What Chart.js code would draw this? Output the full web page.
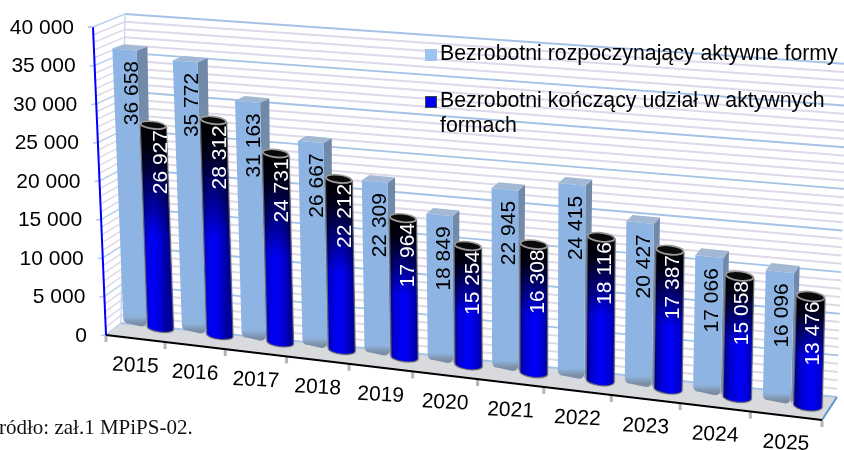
<!DOCTYPE html>
<html><head><meta charset="utf-8">
<style>html,body{margin:0;padding:0;background:#fff;overflow:hidden}#w{position:relative;width:844px;height:450px}</style>
<script src="https://cdn.jsdelivr.net/npm/chart.js@4"></script></head>
<body><div id="w"><canvas id="c" width="844" height="450"></canvas></div>
<script>
const categories = ['2015','2016','2017','2018','2019','2020','2021','2022','2023','2024','2025'];
const startedValues = [36658,35772,31163,26667,22309,18849,22945,24415,20427,17066,16096];
const finishedValues = [26927,28312,24731,22212,17964,15254,16308,18116,17387,15058,13476];
const startedLabel = 'Bezrobotni rozpoczynający aktywne formy';
const finishedLabel = 'Bezrobotni kończący udział w aktywnych formach';
const sourceNote = 'ródło: zał.1 MPiPS-02.';
const yMax = 40000, yMajor = 5000, yMinor = 1000;

const fmt = v => String(v).replace(/\B(?=(\d{3})+$)/g,' ');
const lerp=(a,b,t)=>a+(b-a)*t;
const lp=(p,q,t)=>[lerp(p[0],q[0],t),lerp(p[1],q[1],t)];
// 3D box corners on screen
const FBL=[106,335],FBR=[822,420],BBL=[121,323],BBR=[837,397];
const HL=[-13,-308],HR=[11,-336];          // front-plane height vectors
const BHL=[-12,-300],BHR=[9,-325];         // column height vectors
const BTL=[125,14],BTR=[848,64];
const DTL=[32,-11],DTR=[15,-18];
const K=1.112;
const tOf=u=>u/(u+(1-u)*K);
function wall(t,v){return lp(lp(BBL,BBR,t),lp(BTL,BTR,t),v);}
function front(t,v){const b=lp(FBL,FBR,t),h=lp(HL,HR,t);return [b[0]+h[0]*v,b[1]+h[1]*v];}
function depth(t,v){const d0=lp([BBL[0]-FBL[0],BBL[1]-FBL[1]],[BBR[0]-FBR[0],BBR[1]-FBR[1]],t),d1=lp(DTL,DTR,t);return lp(d0,d1,v);}
function bar(t,v,extra){ // point on a column's plane
  const f=front(t,0),h=lp(BHL,BHR,t);
  const x=f[0]+lerp(12.6,6,t)+h[0]*v, y=f[1]-12+h[1]*v;
  if(!extra) return [x,y];
  const d=depth(t,v);return [x+d[0]*extra,y+d[1]*extra];
}
function poly(ctx,pts,fill,stroke,lw){ctx.beginPath();pts.forEach((p,i)=>i?ctx.lineTo(p[0],p[1]):ctx.moveTo(p[0],p[1]));ctx.closePath();if(fill){ctx.fillStyle=fill;ctx.fill();}if(stroke){ctx.strokeStyle=stroke;ctx.lineWidth=lw||1;ctx.stroke();}}
function seg(ctx,a,b,c,lw){ctx.beginPath();ctx.moveTo(a[0],a[1]);ctx.lineTo(b[0],b[1]);ctx.strokeStyle=c;ctx.lineWidth=lw;ctx.stroke();}

function drawBackdrop(ctx,chart){
  const y=chart.scales.y, area=chart.chartArea;
  const vOf=val=>(y.bottom-y.getPixelForValue(val))/(y.bottom-y.top);
  // floor
  poly(ctx,[FBL,FBR,BBR,BBL],'#d9dade');
  for(let val=0;val<=yMax;val+=yMinor){
    if(val%yMajor===0) continue;
    const v=vOf(val);
    seg(ctx,wall(0,v),wall(1,v),'#dfd8e8',2);
    seg(ctx,front(0,v),wall(0,v),'#dfd8e8',1.5);
  }
  y.ticks.forEach(tk=>{
    const v=vOf(tk.value);
    seg(ctx,wall(0,v),wall(1,v),'#a5c3e6',2);
    seg(ctx,front(0,v),wall(0,v),'#bcd2ec',1.5);
    const f=front(0,v);
    seg(ctx,[f[0]-5,f[1]+0.5],f,'#b6c8f0',1.6);
  });
  seg(ctx,wall(0,0),wall(0,1),'#c3d5ec',1.2);
  seg(ctx,FBR,BBR,'#5d96d6',2);
  // x ticks
  const x=chart.scales.x;
  for(let i=0;i<=categories.length;i++){
    const t=tOf(i/categories.length), p=front(t,0);
    seg(ctx,[p[0],p[1]],[p[0],p[1]+7],'#b5b5b5',3);
  }
  seg(ctx,FBL,FBR,'#000',2.2);
  seg(ctx,front(0,0),front(0,1),'#0000ff',2);
  seg(ctx,[front(0,1)[0]-5,front(0,1)[1]],front(0,1),'#b6c8f0',1.6);
  // axis text, from the library's ticks
  ctx.fillStyle='#000';ctx.font='21px "Liberation Sans", Arial, sans-serif';
  ctx.textAlign='right';ctx.textBaseline='middle';
  y.ticks.forEach(tk=>{const f=front(0,vOf(tk.value));ctx.fillText(fmt(tk.value),f[0]-19,f[1]+1);});
  ctx.textAlign='center';
  categories.forEach((c,i)=>{
    const l=x.getPixelForValue(i);
    const t=tOf((l-area.left)/area.width), p=front(t,0);
    ctx.save();ctx.translate(p[0],p[1]+27.5);ctx.rotate(0.05);ctx.fillText(c,0,0);ctx.restore();
  });
}
function drawBox(ctx,tc,ht,v){
  const L=tc-ht,R=tc+ht,DW=0.36;
  const fl=bar(L,0),fr=bar(R,0),tl=bar(L,v),tr=bar(R,v);
  const brt=bar(R,v,DW),blt=bar(L,v,DW),brb=bar(R,0,DW);
  const sg=ctx.createLinearGradient(tr[0],tr[1],fr[0],fr[1]);sg.addColorStop(0,'#7089a9');sg.addColorStop(1,'#8495ad');
  poly(ctx,[tr,brt,brb,fr],sg);
  poly(ctx,[tl,tr,brt,blt],'#a3b8d3');
  const r=6;
  ctx.beginPath();ctx.moveTo(tl[0],tl[1]);ctx.lineTo(tr[0],tr[1]);
  ctx.lineTo(fr[0],fr[1]-r);ctx.quadraticCurveTo(fr[0],fr[1],fr[0]-r,fr[1]);
  ctx.lineTo(fl[0]+r,fl[1]);ctx.quadraticCurveTo(fl[0],fl[1],fl[0],fl[1]-r);ctx.closePath();
  const sol=ctx.createLinearGradient(0,tl[1],0,fl[1]);
  const s=Math.max(0,(fl[1]-14-tl[1])/(fl[1]-tl[1]));
  sol.addColorStop(0,'#8db4e2');sol.addColorStop(s,'#8db4e2');sol.addColorStop(0.5+s/2,'#8fb3dd');sol.addColorStop(1,'#7c8ea5');
  ctx.fillStyle=sol;ctx.fill();
}
function drawCylinder(ctx,tc,ht,v){
  const L=tc-ht,R=tc+ht;
  const lb=bar(L,0),rb=bar(R,0),lt=bar(L,v),rt=bar(R,v);
  const rx=(rb[0]-lb[0])/2, rot=Math.atan2(rb[1]-lb[1],rb[0]-lb[0]);
  const ry=4+1.2*tc;
  const cb=[(lb[0]+rb[0])/2,(lb[1]+rb[1])/2], ct=[(lt[0]+rt[0])/2,(lt[1]+rt[1])/2];
  ctx.save();
  ctx.beginPath();
  ctx.ellipse(ct[0],ct[1],rx,ry,rot,Math.PI,0,true);
  ctx.ellipse(cb[0],cb[1],rx,ry,rot,0,Math.PI,false);
  ctx.closePath();
  ctx.shadowColor='rgba(90,90,90,0.7)';ctx.shadowBlur=2;
  ctx.fillStyle='#0000c0';ctx.fill();
  ctx.shadowColor='transparent';
  const hg=ctx.createLinearGradient(ct[0]-rx,0,ct[0]+rx,0);
  hg.addColorStop(0,'#00009a');hg.addColorStop(0.18,'#0000d0');hg.addColorStop(0.5,'#0000fa');hg.addColorStop(0.82,'#0000d0');hg.addColorStop(1,'#00009a');
  ctx.fillStyle=hg;ctx.fill();
  const vg=ctx.createLinearGradient(0,ct[1],0,cb[1]);
  vg.addColorStop(0,'rgba(0,0,0,1)');vg.addColorStop(0.14,'rgba(0,0,0,0.9)');vg.addColorStop(0.55,'rgba(0,0,0,0)');vg.addColorStop(1,'rgba(0,0,0,0)');
  ctx.fillStyle=vg;ctx.fill();
  ctx.strokeStyle='rgba(110,110,110,0.85)';ctx.lineWidth=1.2;ctx.stroke();
  ctx.beginPath();ctx.ellipse(ct[0],ct[1],rx-0.5,ry-0.5,rot,0,Math.PI*2);
  ctx.fillStyle='#0a0a0a';ctx.fill();ctx.strokeStyle='#9a9a9a';ctx.lineWidth=1.6;ctx.stroke();
  ctx.restore();
}
function drawLabel(ctx,t,vTop,text,color,offset){
  const h=lp(BHL,BHR,t);
  const p=bar(t,vTop);
  ctx.save();
  ctx.translate(p[0]+h[0]*(-offset/h[1])+lerp(8,2,t),p[1]+offset);
  ctx.rotate(-Math.PI/2);
  ctx.font='21px "Liberation Sans", Arial, sans-serif';ctx.fillStyle=color;
  ctx.textAlign='right';ctx.textBaseline='middle';
  ctx.fillText(text,0,0);ctx.restore();
}
function wrap(ctx,text,max){
  const out=[];let line='';
  text.split(' ').forEach(w=>{const n=line?line+' '+w:w;if(ctx.measureText(n).width>max&&line){out.push(line);line=w;}else line=n;});
  if(line) out.push(line);return out;
}
const scene={
  id:'scene',
  beforeDatasetsDraw(chart){
    const ctx=chart.ctx, area=chart.chartArea, y=chart.scales.y;
    ctx.save();
    drawBackdrop(ctx,chart);
    const m0=chart.getDatasetMeta(0).data,m1=chart.getDatasetMeta(1).data;
    const info=el=>{
      const u=(el.x-area.left)/area.width;
      return {t:tOf(u),ht:el.width/area.width/2,v:(el.base-el.y)/(y.bottom-y.top)};
    };
    const labels=[];
    categories.forEach((c,i)=>{
      const a=info(m0[i]),b=info(m1[i]);
      drawBox(ctx,a.t,a.ht*(0.84+0.17*a.t),a.v);
      drawCylinder(ctx,b.t,b.ht*(0.93+0.1*b.t),b.v);
      labels.push([a.t,a.v,fmt(startedValues[i]),'#000',11.5],[b.t,b.v,fmt(finishedValues[i]),'#fff',5]);
    });
    labels.forEach(l=>drawLabel(ctx,...l));
    // legend
    ctx.font='21.3px "Liberation Sans", Arial, sans-serif';ctx.textAlign='left';ctx.textBaseline='alphabetic';
    ctx.fillStyle='#a0c2ef';ctx.fillRect(425,49,12,12);
    ctx.fillStyle='#0000f0';ctx.fillRect(425.5,96.5,11,11);ctx.strokeStyle='#444';ctx.lineWidth=1;ctx.strokeRect(425.5,96.5,11,11);
    ctx.fillStyle='#000';
    ctx.fillText(chart.data.datasets[0].label,440,60);
    wrap(ctx,chart.data.datasets[1].label,400).forEach((ln,i)=>ctx.fillText(ln,440,107+i*25));
    ctx.font='21px "Liberation Serif", "Times New Roman", serif';ctx.fillStyle='#111';
    ctx.fillText(sourceNote,-1,434);
    ctx.restore();
    return false;
  }
};
new Chart(document.getElementById('c'),{
  type:'bar',
  data:{labels:categories,datasets:[
    {label:startedLabel,data:startedValues,backgroundColor:'#8db4e2'},
    {label:finishedLabel,data:finishedValues,backgroundColor:'#0000ff'}
  ]},
  options:{
    responsive:false,animation:false,
    layout:{padding:{left:106,right:22,top:27,bottom:115}},
    datasets:{bar:{categoryPercentage:0.87,barPercentage:1}},
    plugins:{legend:{display:false},tooltip:{enabled:false}},
    scales:{
      x:{display:false,grid:{display:false}},
      y:{display:false,min:0,max:yMax,ticks:{stepSize:yMajor},grid:{display:false}}
    }
  },
  plugins:[scene]
});
</script></body></html>
